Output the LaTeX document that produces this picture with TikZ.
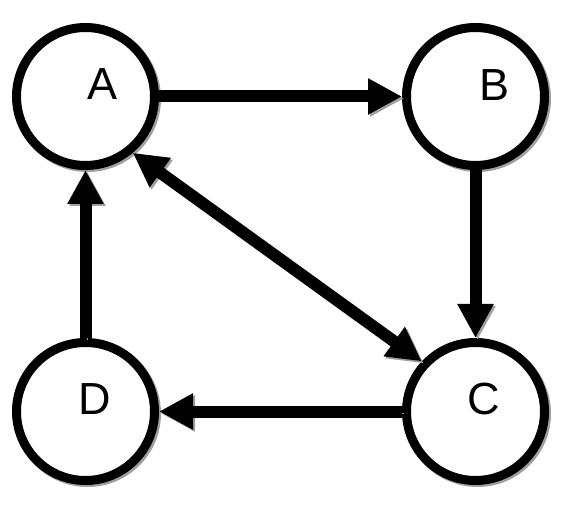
\documentclass[tikz,border=0pt]{standalone}
\usepackage{fontspec}
\setmainfont{Liberation Sans}
\usetikzlibrary{positioning,arrows.meta}

\begin{document}
\begin{tikzpicture}[
shadowed/.style={
    preaction={draw=gray!75, transform canvas={shift={(2pt,-2pt)}}}
},
state/.style={
    circle,
    draw,
    fill=white,
    line width=9pt,
    minimum size=138pt,
    inner sep=0pt,
    shadowed
},
tag/.style={font=\fontsize{45}{45}\selectfont, inner sep=0pt},
link/.style={line width=12pt, shadowed},
>={Triangle[length=34pt,width=34pt]}
]

\node[state] (A) at (0,0) {};
\node[state] (B) [right=243pt of A] {};
\node[state] (D) [below=168pt of A] {};
\node[state] (C) [below=168pt of B] {};

\useasboundingbox ([shift={(-85.5pt,96.5pt)}]A.center) rectangle +(570pt,-505pt);

\node[tag] (Atxt) at ([shift={(17.5pt,12.5pt)}]A.center) {A};
\node[tag] (Btxt) at ([shift={(19.5pt,11.5pt)}]B.center) {B};
\node[tag] (Ctxt) at ([shift={(8.5pt,12pt)}]C.center) {C};
\node[tag] (Dtxt) at ([shift={(9.5pt,12pt)}]D.center) {D};

\draw[link,->] (A)--(B);
\draw[link,->] (B)--(C);
\draw[link,->] (C)--(D);
\draw[link,->] (D)--(A);
\draw[link,<->] (A.-50)--(C.137);

\end{tikzpicture}
\end{document}
